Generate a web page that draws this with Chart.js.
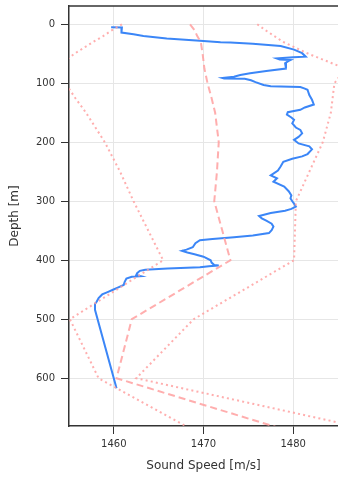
<!DOCTYPE html>
<html>
<head>
<meta charset="UTF-8"/>
<script src="https://cdn.jsdelivr.net/npm/chart.js@4.4.0/dist/chart.umd.min.js"></script>
<style>
  body { margin: 0; background: #fff; }
  #wrap { width: 338px; height: 483px; }
</style>
</head>
<body>
<div id="wrap"><canvas id="chart" width="338" height="483"></canvas></div>
<script>
// measured profile: depth [m] and sound speed [m/s]
const profDepth = [5, 5.5, 8, 14, 17, 20, 24, 28, 30.5, 31, 33, 37, 43, 49, 55, 56, 58, 59.5, 60.5, 62, 66, 75, 79, 83, 86, 89, 91, 92,
  92.5, 95, 98, 103, 105, 106.5, 109, 111, 120, 128, 136, 141, 145, 149, 153, 158, 162, 168, 175, 179, 185, 191, 196, 202, 207,
  212, 220, 224, 228, 233, 241, 248, 256, 261, 267, 275, 283, 290, 295, 300, 304, 309, 313, 316, 320, 325, 329, 333, 338, 343,
  349, 354, 358, 361, 364, 366, 371, 378, 382, 384, 387, 390, 394, 400, 404, 408, 409, 410, 412, 414, 416, 418, 422, 425, 427,
  428, 431, 437, 442, 446, 450, 454, 458, 464, 470, 474, 484, 617];
const profSpeed = [1459.7, 1460.9, 1460.8, 1460.9, 1462.2, 1463.3, 1465.9, 1469.6, 1471.9, 1473.0, 1475.5, 1478.6, 1480.1, 1481.0,
  1481.4, 1480.0, 1478.2, 1478.5, 1479.7, 1479.5, 1479.1, 1479.2, 1477.0, 1475.2, 1474.1, 1473.4, 1472.1, 1472.3,
  1474.6, 1475.3, 1475.8, 1476.7, 1477.5, 1480.8, 1481.3, 1481.6, 1481.8, 1482.1, 1482.3, 1481.3, 1480.8, 1479.4, 1479.3,
  1479.8, 1480.1, 1479.9, 1480.3, 1480.8, 1481.0, 1480.6, 1480.1, 1480.6, 1481.8, 1482.1, 1481.6, 1481.0, 1479.9, 1478.9,
  1478.6, 1478.3, 1477.5, 1478.2, 1477.8, 1479.0, 1479.5, 1479.8, 1479.7, 1479.9, 1480.1, 1480.3, 1479.8, 1479.1, 1477.5,
  1476.2, 1476.5, 1477.0, 1477.6, 1477.8, 1477.6, 1477.3, 1475.5, 1473.4, 1471.0, 1469.6, 1469.1, 1468.8, 1468.1, 1467.6,
  1468.2, 1469.0, 1470.0, 1470.8, 1470.9, 1471.2, 1471.7, 1470.6, 1469.6, 1466.0, 1463.5, 1462.9, 1462.6, 1462.5, 1463.0,
  1462.0, 1461.4, 1461.2, 1461.1, 1460.5, 1459.9, 1459.3, 1458.7, 1458.3, 1458.1, 1457.9, 1457.9, 1460.3];

// climatology at standard depths: mean and lower / upper bounds
const stdDepth   = [0, 10, 20, 30, 50, 75, 100, 125, 150, 200, 250, 300, 400, 500, 600, 700];
const meanSpeed  = [1468.5, 1469.0, 1469.3, 1469.7, 1469.9, 1470.1, 1470.45, 1470.9, 1471.3, 1471.7, 1471.5, 1471.2, 1473.0, 1462.0, 1460.3, 1481.8];
const lowerSpeed = [1460.9, 1459.8, 1458.8, 1457.7, 1455.6, 1453.5, 1454.6, 1455.7, 1456.9, 1459.0, 1460.7, 1462.2, 1465.5, 1455.1, 1458.3, 1470.3];
const upperSpeed = [1476.0, 1476.9, 1477.9, 1478.9, 1481.7, 1485.8, 1484.6, 1484.4, 1484.2, 1483.3, 1481.8, 1480.3, 1480.1, 1468.9, 1462.5, 1492.5];

const depthTicks = [0, 100, 200, 300, 400, 500, 600];
const speedTicks = [1460, 1470, 1480];

function pts(xs, ys) { return xs.map((x, i) => ({x: x, y: ys[i]})); }

const pink = 'rgba(255,160,160,0.85)';

const topBorder = {
  id: 'topBorder',
  afterDraw(chart) {
    const a = chart.chartArea, c = chart.ctx;
    c.save();
    c.strokeStyle = '#333';
    c.lineWidth = 1.5;
    c.beginPath();
    c.moveTo(a.left, a.top);
    c.lineTo(a.right, a.top);
    c.stroke();
    c.restore();
  }
};

Chart.defaults.font.family = '"DejaVu Sans", sans-serif';
Chart.defaults.color = '#333';

new Chart(document.getElementById('chart').getContext('2d'), {
  type: 'scatter',
  data: {
    datasets: [
      { data: pts(meanSpeed, stdDepth), showLine: true, borderColor: pink, borderWidth: 2, borderDash: [7, 4], pointRadius: 0 },
      { data: pts(lowerSpeed, stdDepth), showLine: true, borderColor: pink, borderWidth: 2, borderDash: [2, 3.2], pointRadius: 0 },
      { data: pts(upperSpeed, stdDepth), showLine: true, borderColor: pink, borderWidth: 2, borderDash: [2, 3.2], pointRadius: 0 },
      { data: pts(profSpeed, profDepth), showLine: true, borderColor: '#3b86f7', borderWidth: 2, pointRadius: 0 }
    ]
  },
  options: {
    responsive: false,
    animation: false,
    layout: { padding: { top: 6, right: 0, left: 0, bottom: 0 } },
    plugins: { legend: { display: false }, tooltip: { enabled: false } },
    scales: {
      x: {
        min: 1455, max: 1485,
        afterBuildTicks: s => { s.ticks = speedTicks.map(v => ({value: v})); },
        afterFit: s => { s.height = 57; s.paddingLeft = 0; s.paddingRight = 0; },
        grid: { color: '#e6e6e6', tickColor: '#333', tickLength: 8, lineWidth: 1 },
        border: { color: '#333', width: 1.5 },
        ticks: { font: { size: 10 }, padding: 4, maxRotation: 0, callback: v => String(v) },
        title: { display: true, text: 'Sound Speed [m/s]', font: { size: 12 }, padding: { top: 4, bottom: 10 } }
      },
      y: {
        reverse: true,
        min: -31, max: 681,
        afterBuildTicks: s => { s.ticks = depthTicks.map(v => ({value: v})); },
        afterFit: s => { s.width = 69; s.paddingTop = 0; s.paddingBottom = 0; },
        grid: { color: '#e6e6e6', tickColor: '#333', tickLength: 8, lineWidth: 1 },
        border: { color: '#333', width: 1.5 },
        ticks: { font: { size: 10 }, padding: 6, callback: v => String(v) },
        title: { display: true, text: 'Depth [m]', font: { size: 12 }, padding: { top: 8, bottom: 2 } }
      }
    }
  },
  plugins: [topBorder]
});
</script>
</body>
</html>
